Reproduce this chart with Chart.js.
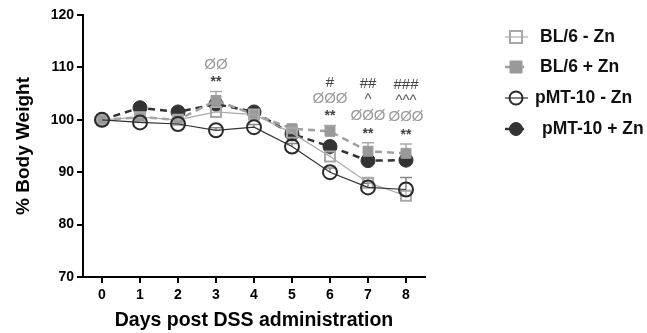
<!DOCTYPE html>
<html>
<head>
<meta charset="utf-8">
<script src="https://cdn.jsdelivr.net/npm/chart.js@4.4.1/dist/chart.umd.min.js"></script>
<style>
  body { margin: 0; background: #fff; }
  #wrap { width: 647px; height: 333px; }
</style>
</head>
<body>
<div id="wrap"><canvas id="chart" width="647" height="333"></canvas></div>
<script>
// Days post DSS administration
const days = ['0', '1', '2', '3', '4', '5', '6', '7', '8'];

// % body weight per group
const bl6NoZn = [100, 100.5, 100, 101.5, 101, 97.5, 93, 88, 85.5];
const bl6Zn   = [100, 100.5, 100, 103.7, 101, 98.3, 97.8, 94, 93.6];
const pmtNoZn = [100, 99.5, 99.2, 98, 98.6, 94.9, 90, 87.1, 86.7];
const pmtZn   = [100, 102.3, 101.5, 103, 101.5, 97.3, 94.9, 92.2, 92.3];

// upper error (SEM)
const bl6NoZnErr = [0, 0.4, 0.4, 0.6, 0.5, 0.6, 0.8, 0.8, 1.0];
const bl6ZnErr   = [0, 0.4, 0.4, 1.7, 0.5, 0.6, 1.1, 1.6, 1.8];
const pmtNoZnErr = [0, 0.4, 0.4, 0.5, 0.5, 0.6, 0.8, 0.8, 2.3];
const pmtZnErr   = [0, 0.4, 0.5, 0.5, 0.5, 0.6, 0.7, 0.6, 0.6];

// significance marks above each day (bottom line first)
const sigDays = [3, 6, 7, 8];
const sigStars = ['**', '**', '**', '**'];
const sigPhi   = ['ØØ', 'ØØØ', 'ØØØ', 'ØØØ'];
const sigCaret = ['', '', '^', '^^^'];
const sigHash  = ['', '#', '##', '###'];

const FONT = 'Arial, "Liberation Sans", sans-serif';

const errorBars = {
  id: 'errorBars',
  beforeDatasetsDraw(chart) {
    const ctx = chart.ctx;
    const y = chart.scales.y;
    chart.data.datasets.forEach((ds, i) => {
      const meta = chart.getDatasetMeta(i);
      ctx.save();
      ctx.strokeStyle = ds.errColor;
      ctx.lineWidth = 1.5;
      meta.data.forEach((pt, j) => {
        const e = ds.err[j];
        if (!e) return;
        const top = y.getPixelForValue(ds.data[j] + e);
        ctx.beginPath();
        ctx.moveTo(pt.x, pt.y);
        ctx.lineTo(pt.x, top);
        ctx.moveTo(pt.x - 6, top);
        ctx.lineTo(pt.x + 6, top);
        ctx.stroke();
      });
      ctx.restore();
    });
  }
};

const sigMarks = {
  id: 'sigMarks',
  afterDatasetsDraw(chart) {
    const ctx = chart.ctx;
    const x = chart.scales.x;
    const y = chart.scales.y;
    ctx.save();
    ctx.textAlign = 'center';
    ctx.textBaseline = 'middle';
    sigDays.forEach((d, k) => {
      const px = x.getPixelForValue(d);
      let top = Math.min(
        y.getPixelForValue(bl6Zn[d] + bl6ZnErr[d]),
        y.getPixelForValue(pmtZn[d] + pmtZnErr[d])
      );
      let py = top - 9;
      const rows = [
        [sigStars[k], '#444', 'bold 14px ' + FONT],
        [sigPhi[k], '#9a9a9a', '15px ' + FONT],
        [sigCaret[k], '#555', '15px ' + FONT],
        [sigHash[k], '#444', '15px ' + FONT]
      ];
      rows.forEach(([t, c, f], r) => {
        if (!t) return;
        ctx.fillStyle = c;
        ctx.font = f;
        ctx.fillText(t, px, py);
        py -= (r === 0 ? 18 : 16);
      });
    });
    ctx.restore();
  }
};

const sideLegend = {
  id: 'sideLegend',
  afterDraw(chart) {
    const ctx = chart.ctx;
    const rowsY = [37, 67, 98, 129];
    const textX = [540, 540, 535, 542];
    chart.data.datasets.forEach((ds, i) => {
      const cy = rowsY[i];
      ctx.save();
      ctx.strokeStyle = ds.borderColor;
      ctx.lineWidth = ds.borderWidth;
      ctx.setLineDash(ds.borderDash || []);
      ctx.beginPath();
      ctx.moveTo(505, cy);
      ctx.lineTo(528, cy);
      ctx.stroke();
      ctx.setLineDash([]);
      ctx.lineWidth = ds.pointBorderWidth;
      ctx.strokeStyle = ds.pointBorderColor;
      ctx.fillStyle = ds.pointBackgroundColor;
      ctx.beginPath();
      if (ds.pointStyle === 'rect') {
        ctx.rect(516 - 6, cy - 6, 12, 12);
      } else {
        ctx.arc(516, cy, 6.5, 0, Math.PI * 2);
      }
      ctx.fill();
      ctx.stroke();
      ctx.fillStyle = '#111';
      ctx.font = 'bold 17.5px ' + FONT;
      ctx.textBaseline = 'middle';
      ctx.fillText(ds.label, textX[i], cy);
      ctx.restore();
    });
  }
};

new Chart(document.getElementById('chart'), {
  type: 'line',
  data: {
    labels: days,
    datasets: [
      {
        label: 'BL/6 - Zn', data: bl6NoZn, err: bl6NoZnErr, errColor: '#bbb',
        borderColor: '#aaa', borderWidth: 1.2,
        pointStyle: 'rect', pointRadius: 7, pointBorderWidth: 2,
        pointBorderColor: '#a8a8a8', pointBackgroundColor: 'rgba(0,0,0,0)', order: 1
      },
      {
        label: 'BL/6 + Zn', data: bl6Zn, err: bl6ZnErr, errColor: '#aaa',
        borderColor: '#a0a0a0', borderWidth: 2.5, borderDash: [7, 5],
        pointStyle: 'rect', pointRadius: 7, pointBorderWidth: 1,
        pointBorderColor: '#999', pointBackgroundColor: '#999', order: 2
      },
      {
        label: 'pMT-10 - Zn', data: pmtNoZn, err: pmtNoZnErr, errColor: '#888',
        borderColor: '#333', borderWidth: 1.2,
        pointStyle: 'circle', pointRadius: 7, pointBorderWidth: 2,
        pointBorderColor: '#2a2a2a', pointBackgroundColor: 'rgba(0,0,0,0)', order: 0
      },
      {
        label: 'pMT-10 + Zn', data: pmtZn, err: pmtZnErr, errColor: '#555',
        borderColor: '#333', borderWidth: 2.5, borderDash: [7, 5],
        pointStyle: 'circle', pointRadius: 7, pointBorderWidth: 1,
        pointBorderColor: '#333', pointBackgroundColor: '#333', order: 3
      }
    ]
  },
  options: {
    responsive: false,
    animation: false,
    layout: { padding: { top: 15, right: 222, left: 0, bottom: 0 } },
    plugins: { legend: { display: false }, tooltip: { enabled: false } },
    elements: { line: { tension: 0 } },
    scales: {
      x: {
        type: 'category',
        offset: true,
        grid: { display: true, drawOnChartArea: false, offset: false, tickLength: 6, color: '#000', lineWidth: 2 },
        border: { display: true, color: '#000', width: 2 },
        ticks: { color: '#000', font: { family: FONT, size: 14, weight: 'bold' }, padding: 4, maxRotation: 0 },
        title: { display: true, text: 'Days post DSS administration', color: '#000', font: { family: FONT, size: 19.5, weight: 'bold' }, padding: { top: 4, bottom: 1 } },
        afterFit(s) { s.height = 56; }
      },
      y: {
        min: 70, max: 120,
        grid: { display: true, drawOnChartArea: false, tickLength: 6, color: '#000', lineWidth: 2 },
        border: { display: true, color: '#000', width: 2 },
        ticks: { stepSize: 10, color: '#000', font: { family: FONT, size: 14, weight: 'bold' }, padding: 3 },
        title: { display: true, text: '% Body Weight', color: '#000', font: { family: FONT, size: 19, weight: 'bold' }, padding: { top: 12, bottom: 0 } },
        afterFit(s) { s.width = 83; }
      }
    }
  },
  plugins: [errorBars, sigMarks, sideLegend]
});
</script>
</body>
</html>
